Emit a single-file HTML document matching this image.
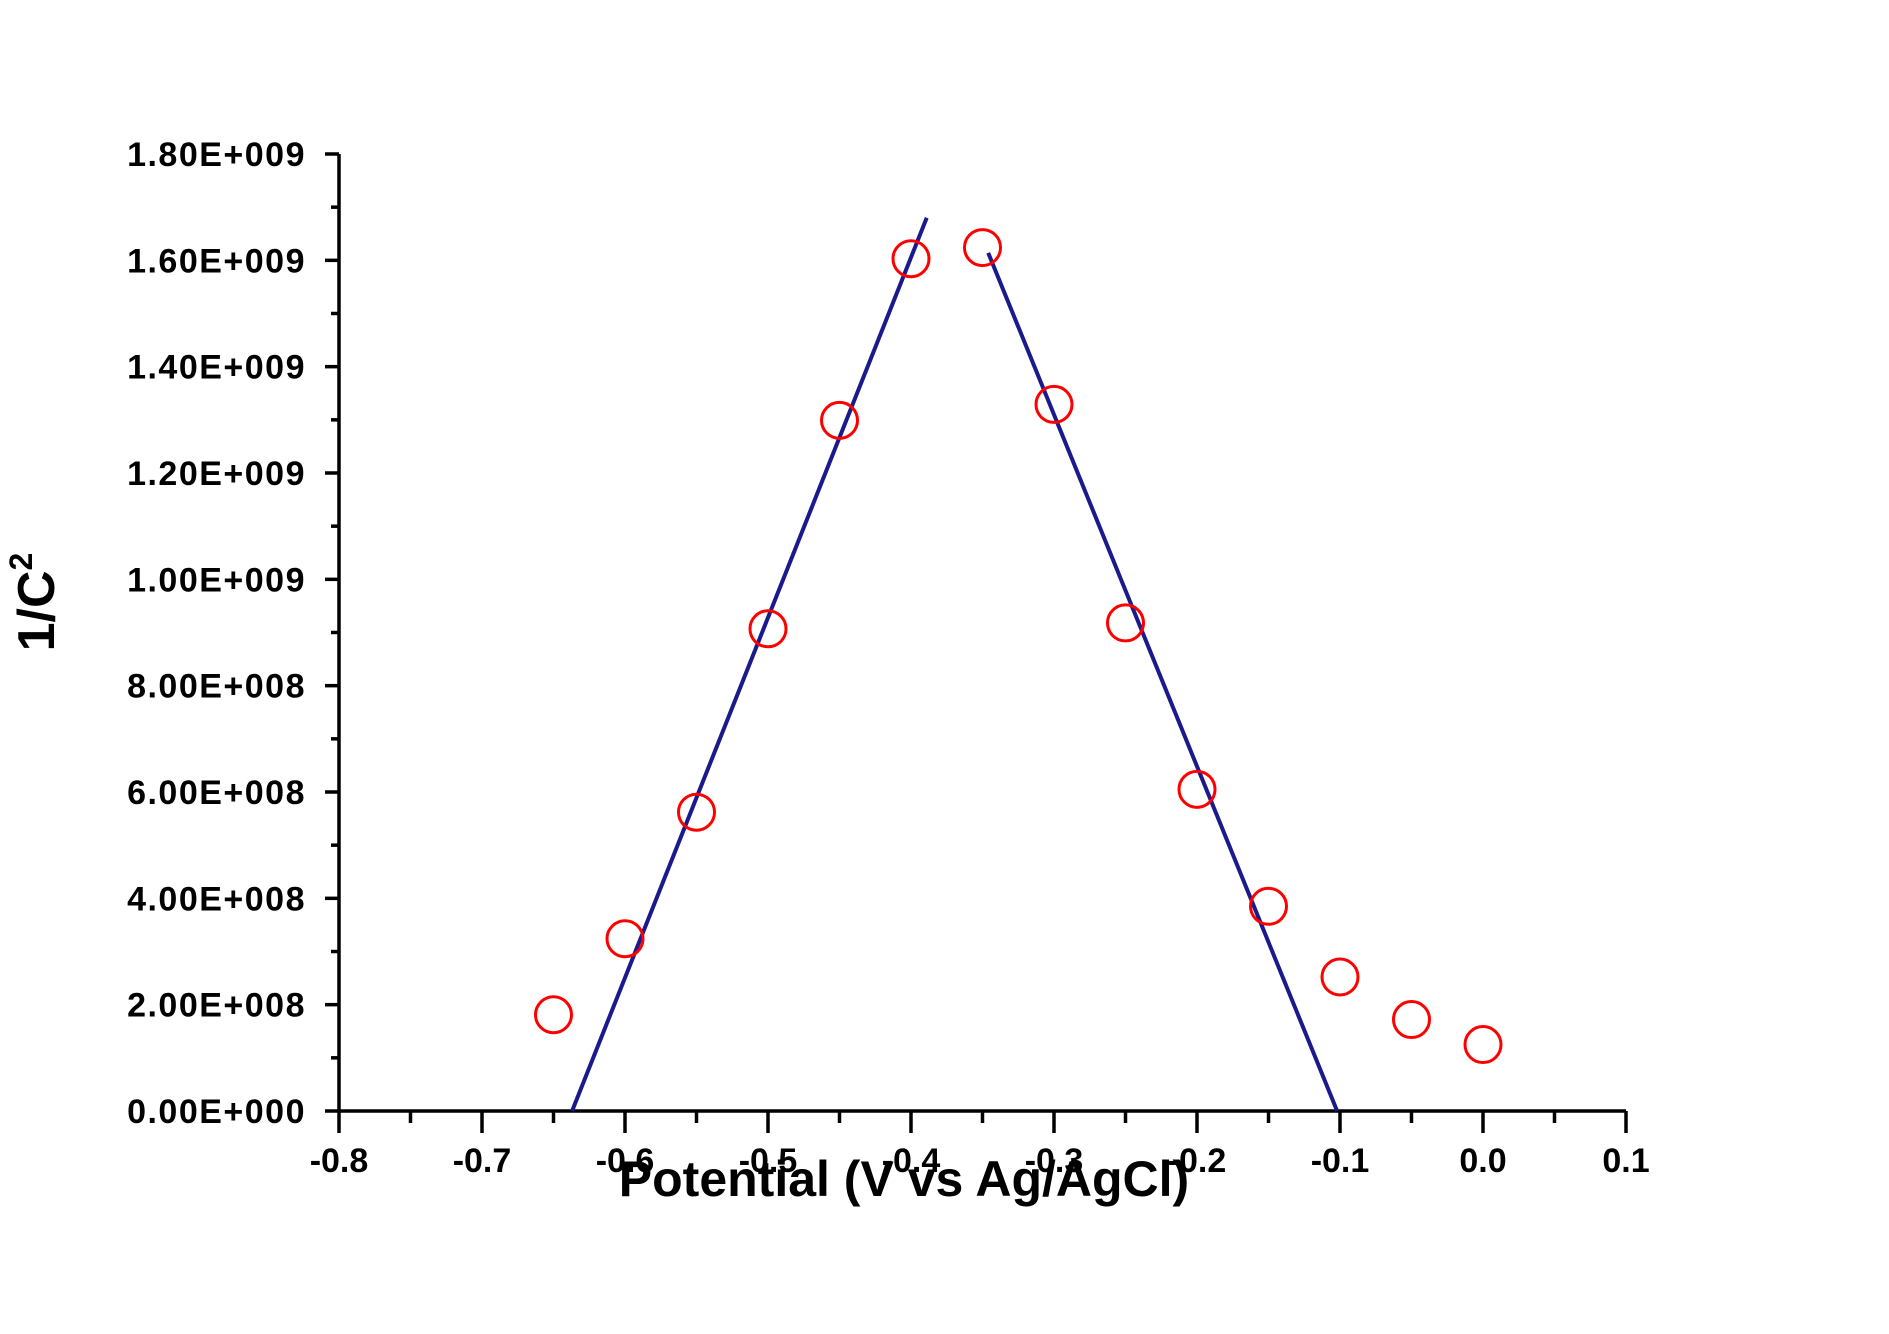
<!DOCTYPE html>
<html><head><meta charset="utf-8"><style>
html,body{margin:0;padding:0;background:#fff;}
svg{display:block;font-family:"Liberation Sans",Arial,sans-serif;font-weight:bold;}
</style></head><body>
<svg id="chart" width="1889" height="1334" viewBox="0 0 1889 1334" xmlns="http://www.w3.org/2000/svg">
<rect width="1889" height="1334" fill="#fff"/>
<g id="axes"></g>
<g id="fits"></g>
<g id="points"></g>
<text x="904" y="1196" text-anchor="middle" font-size="50" fill="#000">Potential (V vs Ag/AgCl)</text>
<text transform="translate(54,602) rotate(-90)" text-anchor="middle" font-size="52" fill="#000">1/C<tspan dy="-22" font-size="32">2</tspan></text>
</svg>
<script>
const xValues=[-0.65,-0.6,-0.55,-0.5,-0.45,-0.4,-0.35,-0.3,-0.25,-0.2,-0.15,-0.1,-0.05,0.0];
const yValues=[0.181e9,0.324e9,0.562e9,0.907e9,1.299e9,1.603e9,1.624e9,1.329e9,0.918e9,0.605e9,0.385e9,0.252e9,0.172e9,0.125e9];
const fitLeftX=[-0.637,-0.389];
const fitLeftY=[0,1.680e9];
const fitRightX=[-0.346,-0.102];
const fitRightY=[1.614e9,0];
const xTicks=[-0.8,-0.7,-0.6,-0.5,-0.4,-0.3,-0.2,-0.1,0.0,0.1];
const xTickLabels=["-0.8","-0.7","-0.6","-0.5","-0.4","-0.3","-0.2","-0.1","0.0","0.1"];
const yTicks=[0,0.2e9,0.4e9,0.6e9,0.8e9,1.0e9,1.2e9,1.4e9,1.6e9,1.8e9];
const yTickLabels=["0.00E+000","2.00E+008","4.00E+008","6.00E+008","8.00E+008","1.00E+009","1.20E+009","1.40E+009","1.60E+009","1.80E+009"];

const X0=339,X1=1626,Y0=1111,Y1=154;
const xMin=-0.8,xMax=0.1,yMin=0,yMax=1.8e9;
function sx(v){return X0+(v-xMin)/(xMax-xMin)*(X1-X0);}
function sy(v){return Y0-(v-yMin)/(yMax-yMin)*(Y0-Y1);}
const NS="http://www.w3.org/2000/svg";
function mk(tag,attrs,parent){const e=document.createElementNS(NS,tag);for(const k in attrs)e.setAttribute(k,attrs[k]);parent.appendChild(e);return e;}
const axes=document.getElementById('axes');
let e=mk('line',{x1:X0,y1:Y0,x2:X1,y2:Y0,stroke:'#000','stroke-width':3.5},axes);


e=mk('line',{x1:X0,y1:Y0,x2:X0,y2:Y1,stroke:'#000','stroke-width':3.5},axes);


xTicks.forEach((v,i)=>{
  const t=mk('line',{x1:sx(v),y1:Y0,x2:sx(v),y2:Y0+22,stroke:'#000','stroke-width':3.5},axes);
  
  
  const l=mk('text',{x:sx(v),y:Y0+61,'text-anchor':'middle','font-size':34,fill:'#000'},axes);
  l.textContent=xTickLabels[i];
  
  
  if(i<xTicks.length-1){
    const m=mk('line',{x1:sx(v+0.05),y1:Y0,x2:sx(v+0.05),y2:Y0+12,stroke:'#000','stroke-width':3.5},axes);
    
    
  }
});
yTicks.forEach((v,i)=>{
  const t=mk('line',{x1:X0-14,y1:sy(v),x2:X0,y2:sy(v),stroke:'#000','stroke-width':3.5},axes);
  
  
  const l=mk('text',{x:X0-33,y:sy(v)+12,'text-anchor':'end','font-size':34,'letter-spacing':'1.5',fill:'#000'},axes);
  l.textContent=yTickLabels[i];
  
  
  if(i<yTicks.length-1){
    const m=mk('line',{x1:X0-8,y1:sy(v+0.1e9),x2:X0,y2:sy(v+0.1e9),stroke:'#000','stroke-width':3.5},axes);
    
    
  }
});
const fits=document.getElementById('fits');
e=mk('line',{x1:sx(fitLeftX[0]),y1:sy(fitLeftY[0]),x2:sx(fitLeftX[1]),y2:sy(fitLeftY[1]),stroke:'#1a1a8c','stroke-width':4},fits);


e=mk('line',{x1:sx(fitRightX[0]),y1:sy(fitRightY[0]),x2:sx(fitRightX[1]),y2:sy(fitRightY[1]),stroke:'#1a1a8c','stroke-width':4},fits);


const pts=document.getElementById('points');
xValues.forEach((v,i)=>{
  const c=mk('circle',{cx:sx(v),cy:sy(yValues[i]),r:18,fill:'none',stroke:'#f00','stroke-width':3},pts);
  
  
});
</script>
</body></html>
